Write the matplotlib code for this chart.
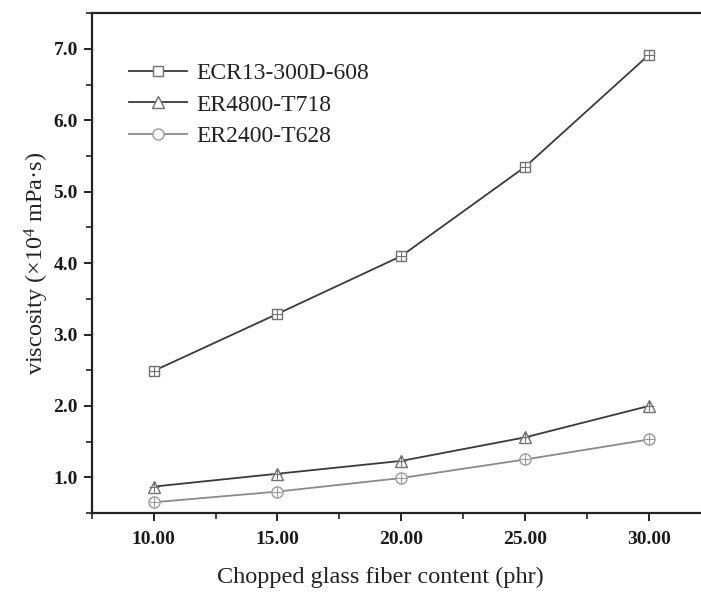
import matplotlib
matplotlib.use("Agg")
import matplotlib.pyplot as plt
from matplotlib.ticker import MultipleLocator, FormatStrFormatter

plt.rcParams['font.family'] = ['Liberation Serif', 'DejaVu Serif']
plt.rcParams['mathtext.fontset'] = 'custom'
plt.rcParams['mathtext.rm'] = 'Liberation Serif'
plt.rcParams['mathtext.it'] = 'Liberation Serif:italic'

content = [10, 15, 20, 25, 30]
ecr13 = [2.49, 3.29, 4.10, 5.35, 6.92]
er4800 = [0.87, 1.05, 1.23, 1.56, 2.00]
er2400 = [0.65, 0.80, 0.99, 1.25, 1.53]
labels = ["ECR13-300D-608", "ER4800-T718", "ER2400-T628"]

fig = plt.figure(figsize=(7.01, 5.92), dpi=100)
AX_L, AX_R, AX_T, AX_B = 91.7, 711.0, 13.3, 513.0
ax = fig.add_axes([AX_L/701, (592-AX_B)/592, (AX_R-AX_L)/701, (AX_B-AX_T)/592])

series = [(ecr13, 's', '#3a3a3a', '#707070'),
          (er4800, '^', '#3a3a3a', '#707070'),
          (er2400, 'o', '#8a8a8a', '#999999')]
for (vals, mk, lc, mc), lab in zip(series, labels):
    ax.plot(content, vals, color=lc, lw=1.3, marker=mk, ms=8 if mk != 's' else 7,
            mfc='white', mec=mc, mew=1.0, label=lab, zorder=3)
    ax.plot(content, vals, ls='none', marker='+', ms=7 if mk != 's' else 6.5,
            mec=mc, mew=0.8, zorder=4)

ax.set_xlim(7.5, 32.5)
ax.set_ylim(0.5, 7.5)
ax.xaxis.set_major_locator(MultipleLocator(5))
ax.xaxis.set_minor_locator(MultipleLocator(2.5))
ax.yaxis.set_major_locator(MultipleLocator(1))
ax.yaxis.set_minor_locator(MultipleLocator(0.5))
ax.xaxis.set_major_formatter(FormatStrFormatter('%.2f'))
ax.yaxis.set_major_formatter(FormatStrFormatter('%.1f'))
ax.set_xticks([10, 15, 20, 25, 30])
ax.set_yticks([1, 2, 3, 4, 5, 6, 7])

for s in ax.spines.values():
    s.set_linewidth(1.6)
    s.set_color('#222222')
ax.tick_params(which='major', direction='out', length=6, width=1.4, color='#222222',
               labelsize=14)
ax.tick_params(axis='x', which='major', pad=7)
ax.tick_params(axis='y', which='major', pad=4)
ax.tick_params(which='minor', direction='out', length=4, width=1.2, color='#222222')
for t in ax.get_xticklabels() + ax.get_yticklabels():
    t.set_fontweight('bold')
    t.set_color('#1a1a1a')

ax.set_xlabel('Chopped glass fiber content (phr)', fontsize=17.5, color='#222222')
ax.set_ylabel(r'viscosity (×10$^{4}$ mPa·s)', fontsize=17.5, color='#222222')
ax.xaxis.set_label_coords((380 - AX_L) / (AX_R - AX_L), -(577 - AX_B) / (AX_B - AX_T))
ax.xaxis.label.set_va('center')
ax.yaxis.set_label_coords(-(AX_L - 37) / (AX_R - AX_L), 0.5)
ax.yaxis.label.set_va('center')

leg = ax.legend(loc='upper left', bbox_to_anchor=(0.045, 0.92), frameon=False,
                fontsize=17, handlelength=2.45, handletextpad=0.4, labelspacing=0.42,
                borderaxespad=0)
for t in leg.get_texts():
    t.set_color('#222222')

fig.savefig('out.png', dpi=100)
